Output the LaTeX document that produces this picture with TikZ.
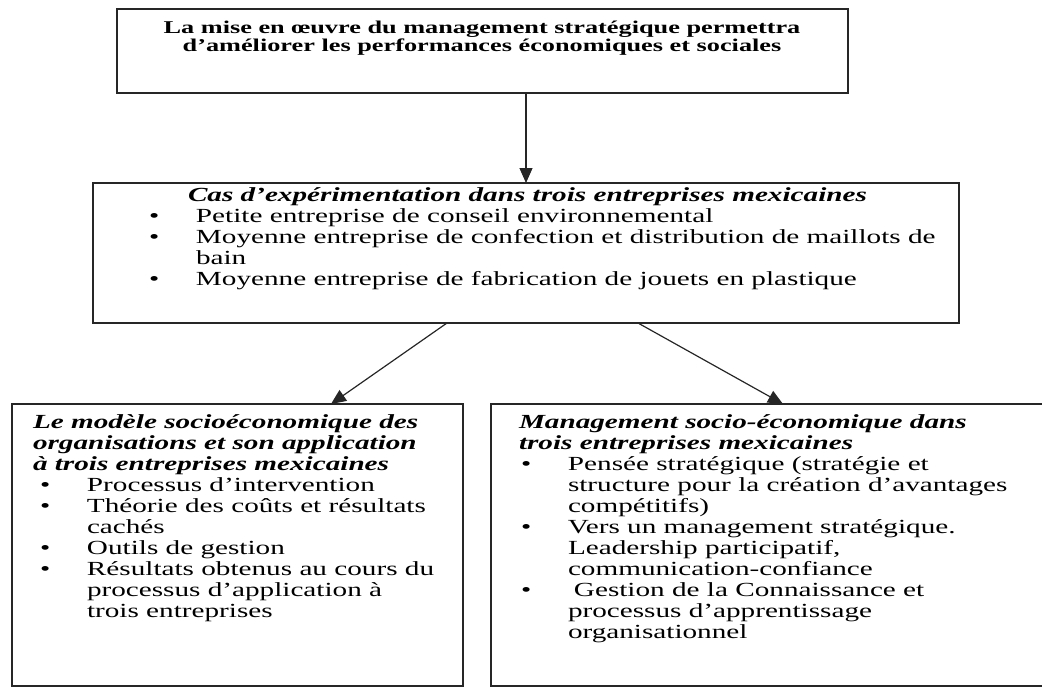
\documentclass[tikz,border=0pt]{standalone}
\usepackage{fontspec}
\setmainfont{Liberation Serif}[FakeStretch=1.46]
\usetikzlibrary{arrows.meta}

% one bullet entry: the bullet, then the text starting at a fixed indent
\newcommand{\bitem}[2][0pt]{\makebox[#2][l]{\hspace*{#1}\textbullet}}
\newcommand{\ttl}[1]{\multicolumn{2}{@{}l@{}}{\textbf{\textit{#1}}}}

\begin{document}
\begin{tikzpicture}[x=1pt,y=-1pt,
  frame/.style={draw=black!85, line width=1.7pt, inner sep=0pt, outer sep=0pt},
  link/.style={draw=black!85, line width=1.2pt, -{Triangle[length=15pt,width=13pt]}},
  body/.style={anchor=base west, inner sep=0pt, outer sep=0pt, font=\fontsize{20}{21}\selectfont},
  head/.style={anchor=base, inner sep=0pt, outer sep=0pt, font=\fontsize{18}{18}\selectfont\bfseries}]
\useasboundingbox (0,0) rectangle (1042,688);
\clip (0,0) rectangle (1042,688);

% frames
\node[frame, minimum width=731pt, minimum height=84pt] (top) at (482.5,51) {};
\node[frame, minimum width=866pt, minimum height=140pt] (mid) at (526,253) {};
\node[frame, minimum width=451pt, minimum height=282pt] (lb) at (237.5,545) {};
\node[frame, minimum width=555pt, minimum height=282pt] (rb) at (768.5,545) {};

% texts
\node[head] (toptext) at (482,33) {\begin{tabular}[t]{@{}c@{}}
La mise en œuvre du management stratégique permettra\\
d’améliorer les performances économiques et sociales
\end{tabular}};

\node[body] (midtext) at (149,201) {\begin{tabular}[t]{@{}l@{}l@{}}
\multicolumn{2}{@{}l@{}}{\hspace*{39pt}\textbf{\textit{Cas d’expérimentation dans trois entreprises mexicaines}}}\\
\makebox[47pt][l]{\textbullet} & Petite entreprise de conseil environnemental\\
\makebox[47pt][l]{\textbullet} & Moyenne entreprise de confection et distribution de maillots de\\
 & bain\\
\makebox[47pt][l]{\textbullet} & Moyenne entreprise de fabrication de jouets en plastique
\end{tabular}};

\node[body] (lefttext) at (33,428) {\begin{tabular}[t]{@{}l@{}l@{}}
\ttl{Le modèle socioéconomique des}\\
\ttl{organisations et son application}\\
\ttl{à trois entreprises mexicaines}\\
\bitem[7pt]{54pt} & Processus d’intervention\\
\bitem[7pt]{54pt} & Théorie des coûts et résultats\\
 & cachés\\
\bitem[7pt]{54pt} & Outils de gestion\\
\bitem[7pt]{54pt} & Résultats obtenus au cours du\\
 & processus d’application à\\
 & trois entreprises
\end{tabular}};

\node[body] (righttext) at (519,428) {\begin{tabular}[t]{@{}l@{}l@{}}
\ttl{Management socio-économique dans}\\
\ttl{trois entreprises mexicaines}\\
\bitem[2pt]{49pt} & Pensée stratégique (stratégie et\\
 & structure pour la création d’avantages\\
 & compétitifs)\\
\bitem[2pt]{49pt} & Vers un management stratégique.\\
 & Leadership participatif,\\
 & communication-confiance\\
\bitem[2pt]{49pt} & \hspace*{6pt}Gestion de la Connaissance et\\
 & processus d’apprentissage\\
 & organisationnel
\end{tabular}};

% connectors
\draw[link] (top.south -| mid.north) -- (mid.north);
\draw[link] ([xshift=-79pt]mid.south) -- ([xshift=93.5pt]lb.north);
\draw[link] ([xshift=112pt]mid.south) -- ([xshift=14.5pt]rb.north);
\end{tikzpicture}
\end{document}
